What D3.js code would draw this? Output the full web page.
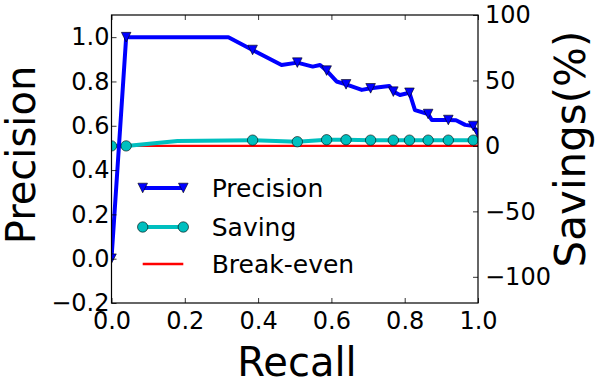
<!DOCTYPE html>
<html>
<head>
<meta charset="utf-8">
<script src="https://cdn.jsdelivr.net/npm/d3@7"></script>
<style>
body { margin: 0; background: #fff; }
svg text { font-family: "DejaVu Sans", sans-serif; fill: #000; }
</style>
</head>
<body>
<svg id="chart" width="598" height="382"></svg>
<script>
// precision curve (line vertices), markers drawn only where marked
var recallP = [0, 0.04, 0.319, 0.385, 0.464, 0.507, 0.549, 0.569, 0.587, 0.614, 0.64, 0.683, 0.707, 0.758, 0.769, 0.787, 0.813, 0.828, 0.864, 0.874, 0.919, 0.94, 0.965, 0.987, 1.0];
var precision = [0.0, 1.0, 1.0, 0.942, 0.874, 0.885, 0.867, 0.874, 0.849, 0.80, 0.787, 0.762, 0.769, 0.78, 0.754, 0.739, 0.749, 0.671, 0.653, 0.626, 0.626, 0.625, 0.604, 0.599, 0.565];
var precisionMarked = [0, 1, 3, 5, 8, 10, 12, 14, 16, 18, 20, 23, 24];

// savings curve (%)
var recallS = [0, 0.04, 0.18, 0.385, 0.507, 0.587, 0.64, 0.707, 0.769, 0.813, 0.864, 0.919, 0.987, 1.0];
var savings = [0, 0, 3.7, 4.4, 3.2, 4.7, 4.7, 4.4, 4.4, 4.4, 4.4, 4.4, 4.4, 4.2];
var savingsMarked = [0, 1, 3, 4, 5, 6, 7, 8, 9, 10, 11, 12];

var breakEven = 0;

var xTicks = [0, 0.2, 0.4, 0.6, 0.8, 1.0];
var yTicks = [-0.2, 0, 0.2, 0.4, 0.6, 0.8, 1.0];
var y2Ticks = [-100, -50, 0, 50, 100];

var legendItems = ["Precision", "Saving", "Break-even"];

var svg = d3.select("#chart");
// plot box (note: "top" is reserved on window, so use pl/pr/pt/pb)
var pl = 111.5, pr = 478, pt = 15, pb = 303;

var x = d3.scaleLinear().domain([0, 1]).range([pl, pr]);
var y = d3.scaleLinear().domain([-0.2, 1.1]).range([pb, pt]);
var y2 = d3.scaleLinear().domain([-120, 100]).range([pb, pt]);

var fmt1 = function(d) { return d3.format(".1f")(d).replace("-", "\u2212"); };
var fmtInt = function(d) { return String(d).replace("-", "\u2212"); };

svg.append("clipPath").attr("id", "plotclip")
  .append("rect").attr("x", pl).attr("y", pt)
  .attr("width", pr - pl).attr("height", pb - pt);

var plot = svg.append("g").attr("clip-path", "url(#plotclip)");

// break-even line
plot.append("line")
  .attr("x1", x(0)).attr("x2", x(1))
  .attr("y1", y2(breakEven)).attr("y2", y2(breakEven))
  .attr("stroke", "#ff0000").attr("stroke-width", 2.4);

// savings line
var sPts = recallS.map(function(r, i) { return [r, savings[i]]; });
plot.append("path")
  .attr("d", d3.line().x(function(d) { return x(d[0]); }).y(function(d) { return y2(d[1]); })(sPts))
  .attr("fill", "none").attr("stroke", "#00bfbf").attr("stroke-width", 4)
  .attr("stroke-linejoin", "round");

// precision line
var pPts = recallP.map(function(r, i) { return [r, precision[i]]; });
plot.append("path")
  .attr("d", d3.line().x(function(d) { return x(d[0]); }).y(function(d) { return y(d[1]); })(pPts))
  .attr("fill", "none").attr("stroke", "#0000ff").attr("stroke-width", 4)
  .attr("stroke-linejoin", "round");

var tri = "M0,4.8L-4.8,-4.8L4.8,-4.8Z";

plot.selectAll(".pm")
  .data(precisionMarked.map(function(i) { return pPts[i]; }))
  .enter().append("path")
  .attr("class", "pm")
  .attr("d", tri)
  .attr("transform", function(d) { return "translate(" + x(d[0]) + "," + y(d[1]) + ")"; })
  .attr("fill", "#0000ff").attr("stroke", "#000").attr("stroke-width", 0.6);

plot.selectAll(".sm")
  .data(savingsMarked.map(function(i) { return sPts[i]; }))
  .enter().append("circle")
  .attr("class", "sm")
  .attr("cx", function(d) { return x(d[0]); })
  .attr("cy", function(d) { return y2(d[1]); })
  .attr("r", 5.2)
  .attr("fill", "#00bfbf").attr("stroke", "#000").attr("stroke-width", 0.6);

// axes, ticks pointing inward
svg.append("g").attr("transform", "translate(0," + pb + ")")
  .call(d3.axisBottom(x).tickValues(xTicks).tickFormat(fmt1).tickSize(-5).tickPadding(9));
svg.append("g").attr("transform", "translate(0," + pt + ")")
  .call(d3.axisTop(x).tickValues(xTicks).tickFormat("").tickSize(-5));
svg.append("g").attr("transform", "translate(" + pl + ",0)")
  .call(d3.axisLeft(y).tickValues(yTicks).tickFormat(fmt1).tickSize(-5).tickPadding(2));
svg.append("g").attr("transform", "translate(" + pr + ",0)")
  .call(d3.axisRight(y2).tickValues(y2Ticks).tickFormat(fmtInt).tickSize(-5).tickPadding(7));

svg.selectAll(".domain").remove();
svg.selectAll(".tick line").attr("stroke", "#000").attr("stroke-width", 0.8);
svg.selectAll(".tick text").attr("font-size", 24).attr("font-family", "DejaVu Sans");

svg.append("rect")
  .attr("x", pl).attr("y", pt).attr("width", pr - pl).attr("height", pb - pt)
  .attr("fill", "none").attr("stroke", "#000").attr("stroke-width", 1.2);

// axis titles
svg.append("text").attr("x", 297).attr("y", 376)
  .attr("text-anchor", "middle").attr("font-size", 40).text("Recall");
svg.append("text")
  .attr("transform", "translate(35,155) rotate(-90)")
  .attr("text-anchor", "middle").attr("font-size", 40).text("Precision");
svg.append("text")
  .attr("transform", "translate(585,149) rotate(-90)")
  .attr("text-anchor", "middle").attr("font-size", 42).text("Savings(%)");

// legend
var legendY = [188, 227, 264];
var lx1 = 142.7, lx2 = 183.3;
var leg = svg.append("g");
leg.append("line").attr("x1", lx1).attr("x2", lx2).attr("y1", legendY[0]).attr("y2", legendY[0])
  .attr("stroke", "#0000ff").attr("stroke-width", 4);
[lx1, lx2].forEach(function(px) {
  leg.append("path").attr("d", tri).attr("transform", "translate(" + px + "," + legendY[0] + ")")
    .attr("fill", "#0000ff").attr("stroke", "#000").attr("stroke-width", 0.6);
});
leg.append("line").attr("x1", lx1).attr("x2", lx2).attr("y1", legendY[1]).attr("y2", legendY[1])
  .attr("stroke", "#00bfbf").attr("stroke-width", 4);
[lx1, lx2].forEach(function(px) {
  leg.append("circle").attr("cx", px).attr("cy", legendY[1]).attr("r", 5.2)
    .attr("fill", "#00bfbf").attr("stroke", "#000").attr("stroke-width", 0.6);
});
leg.append("line").attr("x1", lx1).attr("x2", lx2).attr("y1", legendY[2]).attr("y2", legendY[2])
  .attr("stroke", "#ff0000").attr("stroke-width", 2.4);
leg.selectAll(".lt").data(legendItems).enter().append("text")
  .attr("class", "lt")
  .attr("x", 211.7)
  .attr("y", function(d, i) { return legendY[i]; })
  .attr("dy", "0.36em")
  .attr("font-size", 25)
  .text(function(d) { return d; });
</script>
</body>
</html>
